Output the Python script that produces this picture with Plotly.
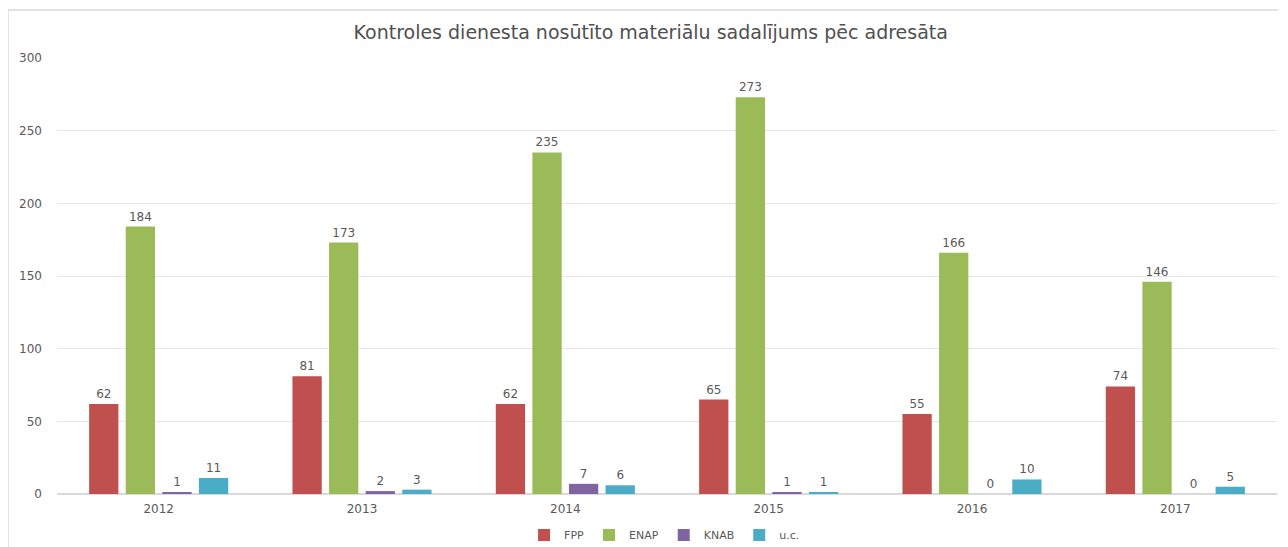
import plotly.graph_objects as go

years = ["2012", "2013", "2014", "2015", "2016", "2017"]
series_names = ["FPP", "ENAP", "KNAB", "u.c."]
fpp = [62, 81, 62, 65, 55, 74]
enap = [184, 173, 235, 273, 166, 146]
knab = [1, 2, 7, 1, 0, 0]
uc = [11, 3, 6, 1, 10, 5]
colors = ["#C0504D", "#9BBB59", "#8064A2", "#4BACC6"]
y_ticks = [0, 50, 100, 150, 200, 250, 300]

FONT = "DejaVu Sans"
fig = go.Figure()
for name, vals, col in zip(series_names, [fpp, enap, knab, uc], colors):
    fig.add_trace(go.Bar(
        x=years, y=vals, name=name, marker_color=col,
        marker_line_width=0,
        text=[str(v) for v in vals], textposition="outside",
        textfont=dict(size=12, color="#595959", family=FONT),
        cliponaxis=False,
    ))

fig.update_layout(
    width=1288, height=547,
    paper_bgcolor="white", plot_bgcolor="white",
    margin=dict(l=49, r=19, t=50, b=61, autoexpand=False),
    barmode="group", bargap=0.28, bargroupgap=0.2,
    title=dict(text="Kontroles dienesta nosūtīto materiālu sadalījums pēc adresāta",
               x=0.499, xanchor="center", y=0.956, yanchor="middle",
               font=dict(size=19, color="#505050", family=FONT)),
    font=dict(family=FONT, color="#595959", size=12),
    showlegend=True,
    legend=dict(orientation="h", x=0.498, xanchor="center", y=-0.094, yanchor="middle",
                font=dict(size=11, color="#595959", family=FONT), itemwidth=30, traceorder="normal"),
)
fig.update_yaxes(range=[0, 300], tickvals=y_ticks, showgrid=True, gridcolor="#E6E6E6",
                 zeroline=True, zerolinecolor="#D9D9D9", showline=False, automargin=False,
                 ticks="", tickfont=dict(size=12, color="#595959", family=FONT), ticklabelstandoff=14)
fig.update_xaxes(showgrid=False, showline=True, linecolor="#D9D9D9", ticks="", automargin=False,
                 tickfont=dict(size=12, color="#595959", family=FONT), ticklabelstandoff=4)

# chart frame (left and top borders)
fig.add_shape(type="line", xref="paper", yref="paper", x0=-0.0402, x1=-0.0402, y0=1.11, y1=-0.2,
              line=dict(color="#D9D9D9", width=1.5))
fig.add_shape(type="line", xref="paper", yref="paper", x0=-0.0402, x1=1.001, y0=1.11, y1=1.11,
              line=dict(color="#D9D9D9", width=1.5))

fig.write_html("out.html")
